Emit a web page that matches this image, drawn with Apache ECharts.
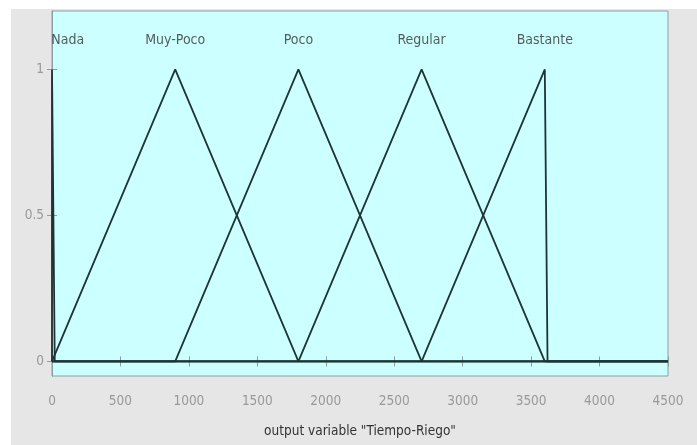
<!DOCTYPE html>
<html>
<head>
<meta charset="utf-8">
<script src="https://cdn.jsdelivr.net/npm/echarts@6/dist/echarts.min.js"></script>
<style>
html,body{margin:0;padding:0;background:#fff;}
#bg{position:absolute;left:11px;top:9px;width:686px;height:436px;background:#e6e6e6;}
#chart{position:absolute;left:0;top:0;width:697px;height:445px;}
</style>
</head>
<body>
<div id="bg"></div>
<div id="chart"></div>
<script>
// Membership functions (x breakpoints, membership values)
const mfNames = ["Nada", "Muy-Poco", "Poco", "Regular", "Bastante"];
const nadaX = [0, 0, 20, 4500];
const nadaY = [0, 1, 0, 0];
const muyPocoX = [0, 900, 1800, 4500];
const muyPocoY = [0, 1, 0, 0];
const pocoX = [0, 900, 1800, 2700, 4500];
const pocoY = [0, 0, 1, 0, 0];
const regularX = [0, 1800, 2700, 3600, 4500];
const regularY = [0, 0, 1, 0, 0];
const bastanteX = [0, 2700, 3600, 3620, 4500];
const bastanteY = [0, 0, 1, 0, 0];
const labelX = [115, 900, 1800, 2700, 3600];
const labelY = [1.1, 1.1, 1.1, 1.1, 1.1];
const xTicks = [0, 500, 1000, 1500, 2000, 2500, 3000, 3500, 4000, 4500];
const yTicks = [0, 0.5, 1];
const xTitle = 'output variable "Tiempo-Riego"';

const mfs = [[nadaX, nadaY], [muyPocoX, muyPocoY], [pocoX, pocoY], [regularX, regularY], [bastanteX, bastanteY]];
const font = '"DejaVu Sans Condensed", "Liberation Sans Narrow", "Liberation Sans", Arial, sans-serif';
const lineColor = '#1e3434';

const series = mfs.map((m, i) => ({
  type: 'line',
  name: mfNames[i],
  data: m[0].map((x, j) => [x, m[1][j]]),
  showSymbol: false,
  symbol: 'none',
  lineStyle: {color: lineColor, width: 1.8},
  animation: false,
  z: 3
}));
series.push({
  type: 'scatter',
  data: labelX.map((x, i) => [x, labelY[i], mfNames[i]]),
  symbolSize: 0,
  label: {
    show: true,
    position: 'inside',
    formatter: p => p.data[2],
    color: '#333',
    fontFamily: font,
    fontSize: 14
  },
  animation: false,
  z: 4
});

const chart = echarts.init(document.getElementById('chart'), null, {renderer: 'canvas'});
const axisLineStyle = {color: '#8aa0a0', width: 1};
chart.setOption({
  backgroundColor: 'transparent',
  grid: {left: 52, right: 29, top: 11, bottom: 69, show: true, backgroundColor: '#ccffff', borderColor: '#8aa0a0', borderWidth: 1},
  xAxis: [{
    type: 'value', min: 0, max: 4500, interval: 500, position: 'bottom',
    axisLine: {show: true, lineStyle: axisLineStyle},
    axisTick: {show: true, inside: true, length: 5, lineStyle: axisLineStyle},
    axisLabel: {color: '#999', fontFamily: font, fontSize: 13.5, margin: 18, formatter: v => String(v)},
    splitLine: {show: false},
    name: xTitle, nameLocation: 'middle', nameGap: 48,
    nameTextStyle: {color: '#333', fontFamily: font, fontSize: 13.5}
  }, {
    type: 'value', min: 0, max: 4500, interval: 500, position: 'top',
    axisLine: {show: true, lineStyle: axisLineStyle},
    axisTick: {show: true, inside: true, length: 5, lineStyle: axisLineStyle},
    axisLabel: {show: false},
    splitLine: {show: false}
  }],
  yAxis: [{
    type: 'value', min: -0.05, max: 1.2, position: 'left',
    axisLine: {show: true, lineStyle: axisLineStyle},
    axisTick: {show: true, inside: true, length: 5, customValues: yTicks, lineStyle: axisLineStyle},
    axisLabel: {color: '#999', fontFamily: font, fontSize: 13.5, margin: 8, customValues: yTicks, formatter: v => String(v)},
    splitLine: {show: false}
  }, {
    type: 'value', min: -0.05, max: 1.2, position: 'right',
    axisLine: {show: true, lineStyle: axisLineStyle},
    axisTick: {show: true, inside: true, length: 5, customValues: yTicks, lineStyle: axisLineStyle},
    axisLabel: {show: false, customValues: yTicks},
    splitLine: {show: false}
  }],
  series: series
});
</script>
</body>
</html>
